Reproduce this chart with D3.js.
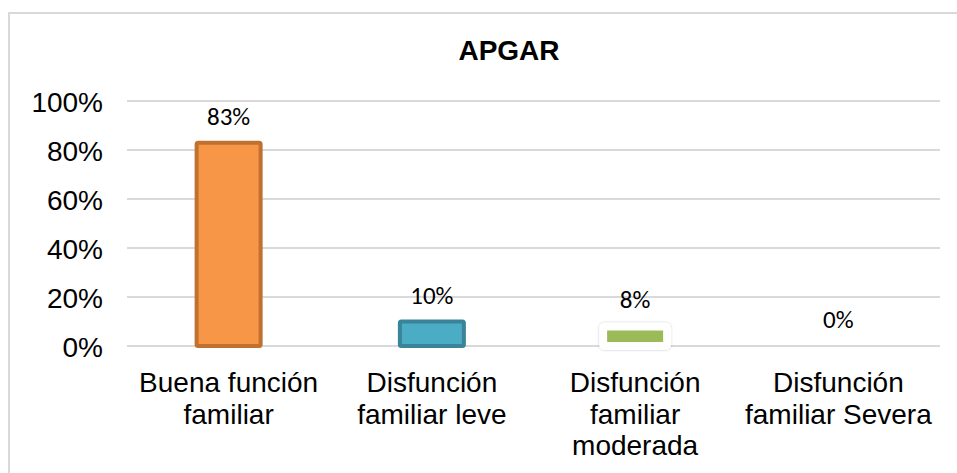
<!DOCTYPE html>
<html>
<head>
<meta charset="utf-8">
<script src="https://cdn.jsdelivr.net/npm/d3@7"></script>
<style>
  html, body { margin: 0; padding: 0; background: #fff; }
  svg { display: block; }
</style>
</head>
<body>
<svg id="chart" width="957" height="473"></svg>
<script>
// ---- data ----
const title = "APGAR";
const categories = ["Buena función familiar", "Disfunción familiar leve", "Disfunción familiar moderada", "Disfunción familiar Severa"];
const values = [0.83, 0.10, 0.08, 0.00];
const valueLabels = ["83%", "10%", "8%", "0%"];
const yTicks = [0, 0.2, 0.4, 0.6, 0.8, 1.0];
const barFills = ["#F79646", "#4BACC6", "#9BBB59", "#8064A2"];
const barStrokes = ["#C0712F", "#3A8399", "#FFFFFF", "#FFFFFF"];

// ---- layout ----
const svg = d3.select("#chart");
const W = 957, H = 473;
const plot = { left: 127, right: 940, top: 101, bottom: 346 };

// chart frame
svg.append("rect")
  .attr("x", 9).attr("y", 13)
  .attr("width", W + 20).attr("height", H + 20)
  .attr("fill", "#fff").attr("stroke", "#d9d9d9").attr("stroke-width", 2);

const x = d3.scaleBand().domain(categories).range([plot.left, plot.right]).paddingInner(0).paddingOuter(0);
const y = d3.scaleLinear().domain([0, 1]).range([plot.bottom, plot.top]);

// gridlines
svg.append("g").selectAll("line").data(yTicks).join("line")
  .attr("x1", plot.left).attr("x2", plot.right)
  .attr("y1", d => y(d)).attr("y2", d => y(d))
  .attr("stroke", "#d9d9d9").attr("stroke-width", 2);

// y axis labels
const yAxis = d3.axisLeft(y).tickValues(yTicks).tickFormat(d3.format(".0%")).tickSize(0).tickPadding(0);
const gy = svg.append("g").attr("transform", `translate(${103},0)`).call(yAxis);
gy.select(".domain").remove();
gy.selectAll("text")
  .attr("font-family", "Arial, 'Liberation Sans', sans-serif")
  .attr("font-size", 28).attr("fill", "#000").attr("dy", "0.36em");

// shadow filter for bars
const defs = svg.append("defs");
const f = defs.append("filter").attr("id", "shadow").attr("x", "-30%").attr("y", "-30%").attr("width", "160%").attr("height", "160%");
f.append("feGaussianBlur").attr("in", "SourceAlpha").attr("stdDeviation", 1.2).attr("result", "b");
f.append("feComponentTransfer").attr("in", "b").attr("result", "b2")
  .append("feFuncA").attr("type", "linear").attr("slope", 0.25);
const fm = f.append("feMerge");
fm.append("feMergeNode").attr("in", "b2");
fm.append("feMergeNode").attr("in", "SourceGraphic");

// bars
const barW = 64;
svg.append("g").selectAll("rect").data(values).join("rect")
  .attr("x", (d, i) => x(categories[i]) + x.bandwidth() / 2 - barW / 2)
  .attr("y", d => y(d))
  .attr("width", barW)
  .attr("height", d => y(0) - y(d))
  .attr("fill", (d, i) => barFills[i])
  .attr("stroke", (d, i) => barStrokes[i])
  .attr("stroke-width", (d, i) => i === 2 ? 8 : 4)
  .attr("rx", 1.5)
  .attr("filter", (d, i) => i === 2 ? "url(#shadow)" : null)
  .style("display", d => d > 0 ? null : "none");

// value labels
svg.append("g").selectAll("text").data(values).join("text")
  .attr("x", (d, i) => x(categories[i]) + x.bandwidth() / 2)
  .attr("y", d => y(d) - 18)
  .attr("text-anchor", "middle")
  .attr("font-family", "Calibri, Carlito, 'Open Sans', sans-serif")
  .attr("font-size", 25)
  .attr("fill", "#000")
  .text((d, i) => valueLabels[i]);

// x axis category labels (wrapped)
const xAxis = d3.axisBottom(x).tickSize(0).tickPadding(0);
const gx = svg.append("g").attr("transform", `translate(0,${plot.bottom})`).call(xAxis);
gx.select(".domain").remove();
gx.selectAll("text")
  .attr("font-family", "Arial, 'Liberation Sans', sans-serif")
  .attr("font-size", 28).attr("fill", "#000")
  .attr("y", 46).attr("dy", 0)
  .each(function(d) {
    const t = d3.select(this);
    const words = d.split(" ");
    t.text(null);
    const maxW = x.bandwidth() - 8;
    let lines = [], cur = [];
    const probe = t.append("tspan");
    words.forEach(w => {
      const test = cur.concat([w]).join(" ");
      probe.text(test);
      if (probe.node().getComputedTextLength() > maxW && cur.length) {
        lines.push(cur.join(" "));
        cur = [w];
      } else cur.push(w);
    });
    lines.push(cur.join(" "));
    probe.remove();
    lines.forEach((l, i) => {
      t.append("tspan").attr("x", 0).attr("dy", i === 0 ? 0 : 31.5).text(l);
    });
  });

// title
svg.append("text")
  .attr("x", 509).attr("y", 60)
  .attr("text-anchor", "middle")
  .attr("font-family", "Arial, 'Liberation Sans', sans-serif")
  .attr("font-weight", "bold")
  .attr("font-size", 28)
  .attr("fill", "#000")
  .text(title);
</script>
</body>
</html>
